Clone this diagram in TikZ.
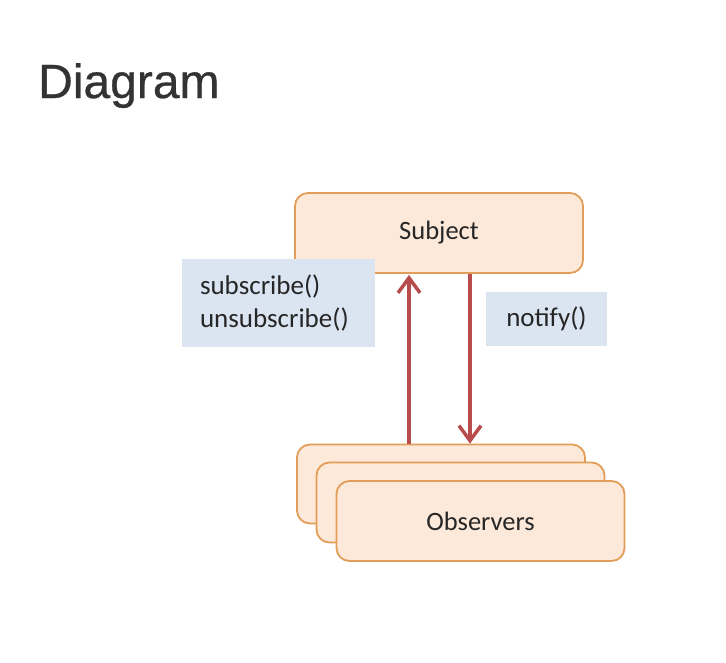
\documentclass[tikz,border=0pt]{standalone}
\usepackage{fontspec}
\setmainfont{Carlito}
\newfontfamily\titlefont[FakeBold=0.6]{Liberation Sans}
\usetikzlibrary{arrows.meta}
\definecolor{boxfill}{HTML}{FDE9D9}
\definecolor{boxline}{RGB}{226,158,88}
\definecolor{bluefill}{HTML}{DBE5F1}
\definecolor{arrowred}{RGB}{184,76,76}
\definecolor{txt}{HTML}{262626}
\definecolor{titlecol}{HTML}{333333}
\tikzset{
  obox/.style={draw=boxline, fill=boxfill, line width=1.8pt, rounded corners=13pt,
    minimum width=288pt, minimum height=80pt, inner sep=0pt, text=txt,
    font=\fontsize{26.5}{30}\selectfont},
  bluebox/.style={fill=bluefill, inner sep=0pt, text=txt,
    font=\fontsize{27}{33}\selectfont},
  arr/.style={draw=arrowred, line width=3.5pt,
    -{Straight Barb[length=15pt,width=22pt,line width=3.5pt]}}
}
\begin{document}
\begin{tikzpicture}[x=1pt,y=-1pt]
\useasboundingbox (0,0) rectangle (726,662);
\fill[white] (0,0) rectangle (726,662);
\node[anchor=base west, text=titlecol, font=\titlefont\fontsize{48}{52}\selectfont, inner sep=0pt] (title) at (38,98) {Diagram};
% subject
\node[obox] (subject) at (439,233) {Subject};
% observers
\node[obox, minimum height=79pt] (obs1) at (441,484) {};
\node[obox] (obs2) at (460.5,502.5) {};
\node[obox] (obs3) at (480.5,521) {Observers};
% labels
\node[bluebox, align=left, minimum width=193pt, minimum height=88pt, text width=157pt] (subl) at (278.5,303) {subscribe()\\unsubscribe()};
\node[bluebox, align=center, minimum width=121pt, minimum height=54pt] (notl) at (546.5,319) {notify()};
% arrows
\coordinate (upx) at (409,0);
\coordinate (dnx) at (470,0);
\draw[arr] (obs1.north -| upx) -- ([yshift=-1pt]subject.south -| upx);
\draw[arr] (subject.south -| dnx) -- (obs1.north -| dnx);
\end{tikzpicture}
\end{document}
